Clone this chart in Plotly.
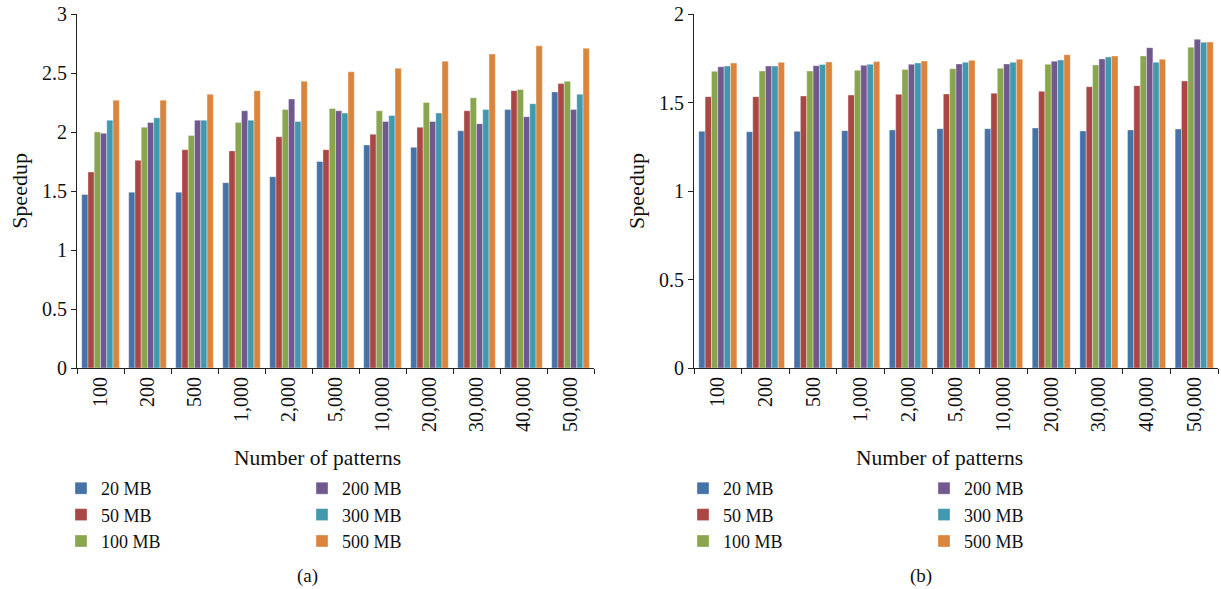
import plotly.graph_objects as go

categories = ["100", "200", "500", "1,000", "2,000", "5,000", "10,000", "20,000", "30,000", "40,000", "50,000"]
series_names = ["20 MB", "50 MB", "100 MB", "200 MB", "300 MB", "500 MB"]
colors = ["#4572A7", "#AA4643", "#89A54E", "#71588F", "#4198AF", "#DB843D"]

# Panel (a)
a_20 = [1.47, 1.49, 1.49, 1.57, 1.62, 1.75, 1.89, 1.87, 2.01, 2.19, 2.34]
a_50 = [1.66, 1.76, 1.85, 1.84, 1.96, 1.85, 1.98, 2.04, 2.18, 2.35, 2.41]
a_100 = [2.00, 2.04, 1.97, 2.08, 2.19, 2.20, 2.18, 2.25, 2.29, 2.36, 2.43]
a_200 = [1.99, 2.08, 2.10, 2.18, 2.28, 2.18, 2.09, 2.09, 2.07, 2.13, 2.19]
a_300 = [2.10, 2.12, 2.10, 2.10, 2.09, 2.16, 2.14, 2.16, 2.19, 2.24, 2.32]
a_500 = [2.27, 2.27, 2.32, 2.35, 2.43, 2.51, 2.54, 2.60, 2.66, 2.73, 2.71]

# Panel (b)
b_20 = [1.337, 1.335, 1.337, 1.341, 1.345, 1.352, 1.352, 1.356, 1.339, 1.345, 1.350]
b_50 = [1.533, 1.533, 1.537, 1.542, 1.546, 1.548, 1.552, 1.563, 1.589, 1.595, 1.621]
b_100 = [1.676, 1.678, 1.678, 1.682, 1.687, 1.691, 1.693, 1.716, 1.712, 1.763, 1.812]
b_200 = [1.702, 1.706, 1.708, 1.710, 1.716, 1.718, 1.718, 1.733, 1.746, 1.810, 1.857]
b_300 = [1.706, 1.706, 1.714, 1.716, 1.723, 1.727, 1.727, 1.740, 1.757, 1.727, 1.840]
b_500 = [1.723, 1.727, 1.729, 1.731, 1.734, 1.738, 1.744, 1.770, 1.763, 1.744, 1.842]

a_series = [a_20, a_50, a_100, a_200, a_300, a_500]
b_series = [b_20, b_50, b_100, b_200, b_300, b_500]

FONT = "Liberation Serif"
W, H = 1221, 589

fig = go.Figure()
for i, (name, vals) in enumerate(zip(series_names, a_series)):
    fig.add_trace(go.Bar(
        x=categories, y=vals, name=name, xaxis="x", yaxis="y",
        marker=dict(color=colors[i], line=dict(color="rgba(255,255,255,0.6)", width=0.6)),
        legend="legend" if i < 3 else "legend2",
    ))
for i, (name, vals) in enumerate(zip(series_names, b_series)):
    fig.add_trace(go.Bar(
        x=categories, y=vals, name=name, xaxis="x2", yaxis="y2",
        marker=dict(color=colors[i], line=dict(color="rgba(255,255,255,0.6)", width=0.6)),
        legend="legend3" if i < 3 else "legend4",
    ))

def px_x(p):
    return p / W

def px_y(p):
    return 1 - p / H

y_dom = [px_y(368), px_y(14)]

axis_common = dict(
    showline=True, linecolor="#222", linewidth=1.2, showgrid=False, zeroline=False,
    ticks="outside", ticklen=5, tickcolor="#222", tickwidth=1.2, automargin=False,
    tickfont=dict(family=FONT, size=20, color="#111"),
)

fig.update_layout(
    width=W, height=H,
    margin=dict(l=0, r=0, t=0, b=0, autoexpand=False),
    paper_bgcolor="white", plot_bgcolor="white",
    barmode="group", bargap=0.2, bargroupgap=0,
    font=dict(family=FONT, size=20, color="#111"),
    xaxis=dict(domain=[px_x(77), px_x(594)], anchor="y", type="category",
               tickson="boundaries", tickangle=-90, **axis_common),
    yaxis=dict(domain=y_dom, anchor="x", range=[0, 3], tickvals=[0, 0.5, 1, 1.5, 2, 2.5, 3],
               ticktext=["0", "0.5", "1", "1.5", "2", "2.5", "3"],
               title=dict(text="Speedup", font=dict(family=FONT, size=22), standoff=8),
               **axis_common),
    xaxis2=dict(domain=[px_x(694), px_x(1218)], anchor="y2", type="category",
                tickson="boundaries", tickangle=-90, **axis_common),
    yaxis2=dict(domain=y_dom, anchor="x2", range=[0, 2], tickvals=[0, 0.5, 1, 1.5, 2],
                ticktext=["0", "0.5", "1", "1.5", "2"],
                title=dict(text="Speedup", font=dict(family=FONT, size=22), standoff=8),
                **axis_common),
)

legend_common = dict(
    orientation="v", bgcolor="rgba(0,0,0,0)", borderwidth=0,
    font=dict(family=FONT, size=18, color="#111"),
    xanchor="left", yanchor="top", tracegroupgap=0, itemclick=False,
)
fig.update_layout(
    legend=dict(x=px_x(61), y=px_y(470), **legend_common),
    legend2=dict(x=px_x(302), y=px_y(470), **legend_common),
    legend3=dict(x=px_x(683), y=px_y(470), **legend_common),
    legend4=dict(x=px_x(924), y=px_y(470), **legend_common),
)

annotations = [
    dict(text="Number of patterns", x=px_x(317), y=px_y(458), xref="paper", yref="paper",
         showarrow=False, font=dict(family=FONT, size=21.5), xanchor="center", yanchor="middle"),
    dict(text="Number of patterns", x=px_x(939), y=px_y(458), xref="paper", yref="paper",
         showarrow=False, font=dict(family=FONT, size=21.5), xanchor="center", yanchor="middle"),
    dict(text="(a)", x=px_x(307), y=px_y(576), xref="paper", yref="paper",
         showarrow=False, font=dict(family=FONT, size=19), xanchor="center", yanchor="middle"),
    dict(text="(b)", x=px_x(921), y=px_y(576), xref="paper", yref="paper",
         showarrow=False, font=dict(family=FONT, size=19), xanchor="center", yanchor="middle"),
]
fig.update_layout(annotations=annotations)

fig.write_html("out.html")
